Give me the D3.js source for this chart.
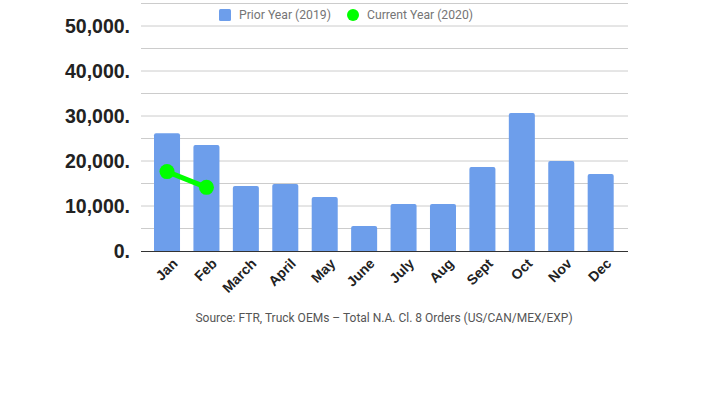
<!DOCTYPE html>
<html><head><meta charset="utf-8">
<script src="https://cdn.jsdelivr.net/npm/d3@7"></script>
<style>body{margin:0;background:#fff}</style>
</head><body>
<svg id="c" width="710" height="399"></svg>
<script>
const months = ["Jan","Feb","March","April","May","June","July","Aug","Sept","Oct","Nov","Dec"];
const prior2019 = [26150,23550,14450,14900,12000,5550,10450,10450,18650,30650,20000,17100];
const currentMonths = ["Jan","Feb"];
const current2020 = [17650,14150];
const yTicks = [0,10000,20000,30000,40000,50000];
const gridTicks = [0,5000,10000,15000,20000,25000,30000,35000,40000,45000,50000,55000];
const legendLabels = ["Prior Year (2019)","Current Year (2020)"];
const sourceText = "Source: FTR, Truck OEMs \u2013 Total N.A. Cl. 8 Orders (US/CAN/MEX/EXP)";

const svg = d3.select("#c");
const x = d3.scaleBand().domain(months).range([147.3,620.4]).paddingInner(0.34).paddingOuter(0.17);
const y = d3.scaleLinear().domain([0,55000]).range([251,3.5]);

// gridlines
svg.append("g").selectAll("line").data(gridTicks.filter(d=>d>0)).join("line")
  .attr("x1",141).attr("x2",628).attr("y1",d=>y(d)).attr("y2",d=>y(d))
  .attr("stroke","#cccccc").attr("stroke-width",1);

// y labels
svg.append("g").selectAll("text").data(yTicks).join("text")
  .attr("x",130).attr("y",d=>y(d)).attr("dy","0.36em").attr("text-anchor","end")
  .attr("font-family","Liberation Sans, Arial, sans-serif").attr("font-weight","bold")
  .attr("font-size",19.5).attr("fill","#222")
  .text(d=>d3.format(",")(d)+".");

// bars
svg.append("g").selectAll("path").data(prior2019).join("path")
  .attr("fill","#6d9eeb")
  .attr("d",(d,i)=>{
    const x0=x(months[i]), w=x.bandwidth(), y0=y(d), y1=y(0), r=2;
    return `M${x0},${y1}V${y0+r}Q${x0},${y0} ${x0+r},${y0}H${x0+w-r}Q${x0+w},${y0} ${x0+w},${y0+r}V${y1}Z`;
  });

// axis line
svg.append("line").attr("x1",141).attr("x2",628).attr("y1",y(0)+0.5).attr("y2",y(0)+0.5)
  .attr("stroke","#333").attr("stroke-width",1);

// x labels
svg.append("g").selectAll("text").data(months).join("text")
  .attr("transform",d=>`translate(${x(d)+x.bandwidth()/2+8},${261}) rotate(-45)`)
  .attr("text-anchor","end").attr("dy","0.35em")
  .attr("font-family","Liberation Sans, Arial, sans-serif").attr("font-weight","bold")
  .attr("font-size",14).attr("fill","#222").text(d=>d);

// current year line
const line = d3.line().x((d,i)=>x(currentMonths[i])+x.bandwidth()/2).y(d=>y(d));
svg.append("path").datum(current2020).attr("d",line).attr("fill","none")
  .attr("stroke","#00ff00").attr("stroke-width",5);
svg.append("g").selectAll("circle").data(current2020).join("circle")
  .attr("cx",(d,i)=>x(currentMonths[i])+x.bandwidth()/2).attr("cy",d=>y(d)).attr("r",7.5)
  .attr("fill","#00ff00");

// legend
const lg = svg.append("g").attr("font-family","Roboto, sans-serif").attr("font-size",12.2).attr("fill","#757575");
lg.append("rect").attr("x",219).attr("y",9).attr("width",12).attr("height",12).attr("rx",1.5).attr("fill","#6d9eeb");
lg.append("text").attr("x",239).attr("y",15).attr("dy","0.35em").text(legendLabels[0]);
lg.append("circle").attr("cx",353).attr("cy",15).attr("r",6).attr("fill","#00ff00");
lg.append("text").attr("x",367).attr("y",15).attr("dy","0.35em").text(legendLabels[1]);

// source
svg.append("text").attr("x",384).attr("y",322).attr("text-anchor","middle")
  .attr("font-family","Roboto, sans-serif").attr("font-size",12).attr("fill","#555")
  .text(sourceText);
</script>
</body></html>
